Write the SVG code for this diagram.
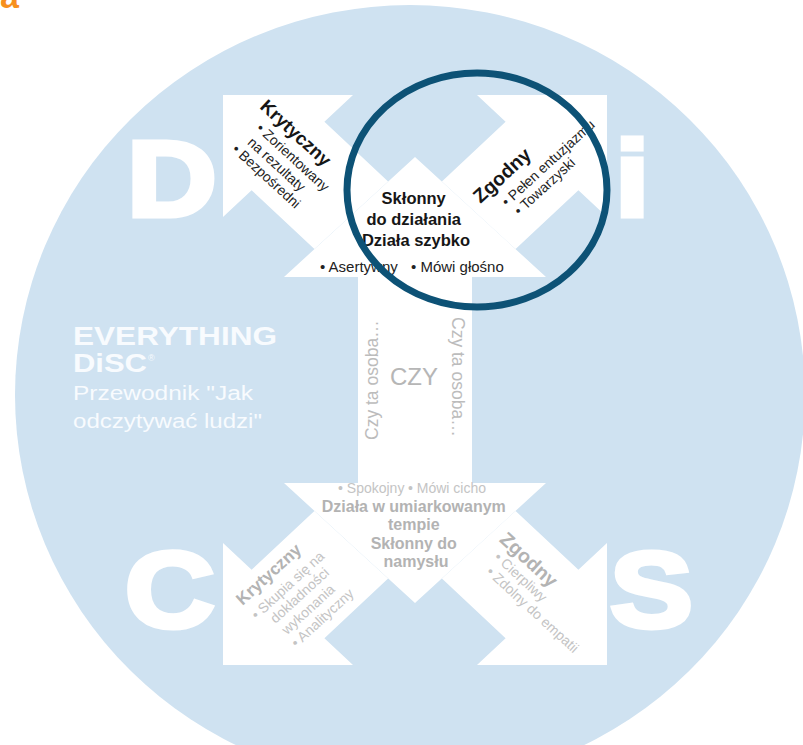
<svg xmlns="http://www.w3.org/2000/svg" width="803" height="745" viewBox="0 0 803 745">
  <defs>
    <style>
      .sans { font-family: "Liberation Sans", Arial, sans-serif; }
      .arrow { fill: #ffffff; }
      .big { font-family: "Liberation Sans", Arial, sans-serif; font-weight: bold; font-size: 108px; fill: #ffffff; stroke: #ffffff; stroke-width: 5; }
      .brand { font-family: "Liberation Sans", Arial, sans-serif; fill: #f8fbfe; }
      .hd { font-weight: bold; fill: #161616; }
      .it { fill: #1e1e1e; font-size: 14px; }
      .hd-g { font-weight: bold; fill: #b3b3b3; }
      .it-g { fill: #c4c4c4; font-size: 14px; }
      .shaft { fill: #bcbcbc; }
    </style>
  </defs>

  <rect width="803" height="745" fill="#ffffff"/>

  <!-- cropped heading letter at the top edge -->
  <text class="sans" x="0" y="8" font-size="34" font-weight="bold" fill="#f7901e">a</text>

  <!-- background disc -->
  <ellipse cx="410" cy="395" rx="395" ry="390" fill="#cfe2f1"/>

  <!-- quadrant letters -->
  <g id="letters">
    <text class="big" transform="translate(127,215.5) scale(1.15,1)">D</text>
    <text class="big" transform="translate(615,215.5) scale(1.15,1)">i</text>
    <text class="big" transform="translate(125,627) scale(1.15,1)">C</text>
    <text class="big" transform="translate(610,627) scale(1.15,1)">S</text>
  </g>

  <!-- brand block -->
  <g id="title" class="brand">
    <text x="73" y="345" font-size="25.5" font-weight="bold" textLength="204" lengthAdjust="spacingAndGlyphs">EVERYTHING</text>
    <text x="73" y="371.5" font-size="25.5" font-weight="bold" textLength="74" lengthAdjust="spacingAndGlyphs">DiSC</text>
    <text x="148" y="361" font-size="9">®</text>
    <text x="73" y="400" font-size="19.5" textLength="180" lengthAdjust="spacingAndGlyphs">Przewodnik "Jak</text>
    <text x="73" y="428" font-size="19.5" textLength="189" lengthAdjust="spacingAndGlyphs">odczytywać ludzi"</text>
  </g>

  <!-- vertical pace arrow -->
  <g id="pace-arrow">
    <polygon class="arrow" points="415,157 546,277 472,277 472,483 546,483 415,603 284,483 358,483 358,277 284,277"/>
    <text class="sans hd" font-size="16.5" text-anchor="middle">
      <tspan x="416" y="204">Skłonny</tspan>
      <tspan x="416" y="225">do działania</tspan>
      <tspan x="416" y="246">Działa szybko</tspan>
    </text>
    <text class="sans" font-size="15" fill="#222222" x="320" y="272">• Asertywny</text>
    <text class="sans" font-size="15" fill="#222222" x="411" y="272">• Mówi głośno</text>

    <text class="sans shaft" font-size="17.5" transform="translate(378,440) rotate(-90)">Czy ta osoba…</text>
    <text class="sans shaft" font-size="17.5" transform="translate(452,317) rotate(90)">Czy ta osoba…</text>
    <text class="sans" font-size="24" fill="#b6b6b6" x="414" y="385" text-anchor="middle">CZY</text>

    <text class="sans it-g" font-size="15" x="338" y="493">• Spokojny</text>
    <text class="sans it-g" font-size="15" x="408" y="493">• Mówi cicho</text>
    <text class="sans hd-g" font-size="16" text-anchor="middle">
      <tspan x="416" y="512">Działa w umiarkowanym</tspan>
      <tspan x="416" y="530">tempie</tspan>
      <tspan x="416" y="548.5">Skłonny do</tspan>
      <tspan x="416" y="566.5">namysłu</tspan>
    </text>
  </g>

  <!-- D arrow -->
  <g id="arrow-d">
    <polygon class="arrow" points="223,95 353,95 324.4,121.8 388.1,181.6 314.4,249.1 251.6,190.2 223,217"/>
    <text class="sans hd" font-size="18.5" transform="translate(259,107.7) rotate(42.5)">Krytyczny</text>
    <text class="sans it" transform="translate(255.4,129.6) rotate(42.5)">• Zorientowany</text>
    <text class="sans it" transform="translate(246.7,143.4) rotate(42.5)">na rezultaty</text>
    <text class="sans it" transform="translate(231.3,150.6) rotate(42.5)">• Bezpośredni</text>
  </g>

  <!-- i arrow -->
  <g id="arrow-i">
    <polygon class="arrow" points="607,95 477,95 505.6,121.8 441.9,181.6 515.6,249.1 578.4,190.2 607,217"/>
    <text class="sans hd" font-size="19.5" transform="translate(480.6,204) rotate(-42.5)">Zgodny</text>
    <text class="sans it" transform="translate(507.1,207.1) rotate(-42.5)">• Pełen entuzjazmu</text>
    <text class="sans it" transform="translate(519.4,216) rotate(-42.5)">• Towarzyski</text>
  </g>

  <!-- C arrow -->
  <g id="arrow-c">
    <polygon class="arrow" points="223,665 353,665 324.4,638.2 388.1,578.4 314.4,510.9 251.6,569.8 223,543"/>
    <text class="sans hd-g" font-size="17" transform="translate(242.6,605.9) rotate(-42.5)">Krytyczny</text>
    <text class="sans it-g" transform="translate(256.8,620.1) rotate(-42.5)">• Skupia się na</text>
    <text class="sans it-g" transform="translate(275.6,623.9) rotate(-42.5)">dokładności</text>
    <text class="sans it-g" transform="translate(286.9,635.2) rotate(-42.5)">wykonania</text>
    <text class="sans it-g" transform="translate(296.6,648.1) rotate(-42.5)">• Analityczny</text>
  </g>

  <!-- S arrow -->
  <g id="arrow-s">
    <polygon class="arrow" points="607,665 477,665 505.6,638.2 441.9,578.4 515.6,510.9 578.4,569.8 607,543"/>
    <text class="sans hd-g" font-size="19.5" transform="translate(498.4,540.8) rotate(42.5)">Zgodny</text>
    <text class="sans it-g" transform="translate(493.3,558.4) rotate(42.5)">• Cierpliwy</text>
    <text class="sans it-g" transform="translate(485.4,573.1) rotate(42.5)">• Zdolny do empatii</text>
  </g>

  <!-- highlight ring over the fast-paced zone -->
  <g id="highlight">
    <ellipse cx="477" cy="190" rx="130" ry="117" fill="none" stroke="#0d5276" stroke-width="7"/>
  </g>
</svg>
